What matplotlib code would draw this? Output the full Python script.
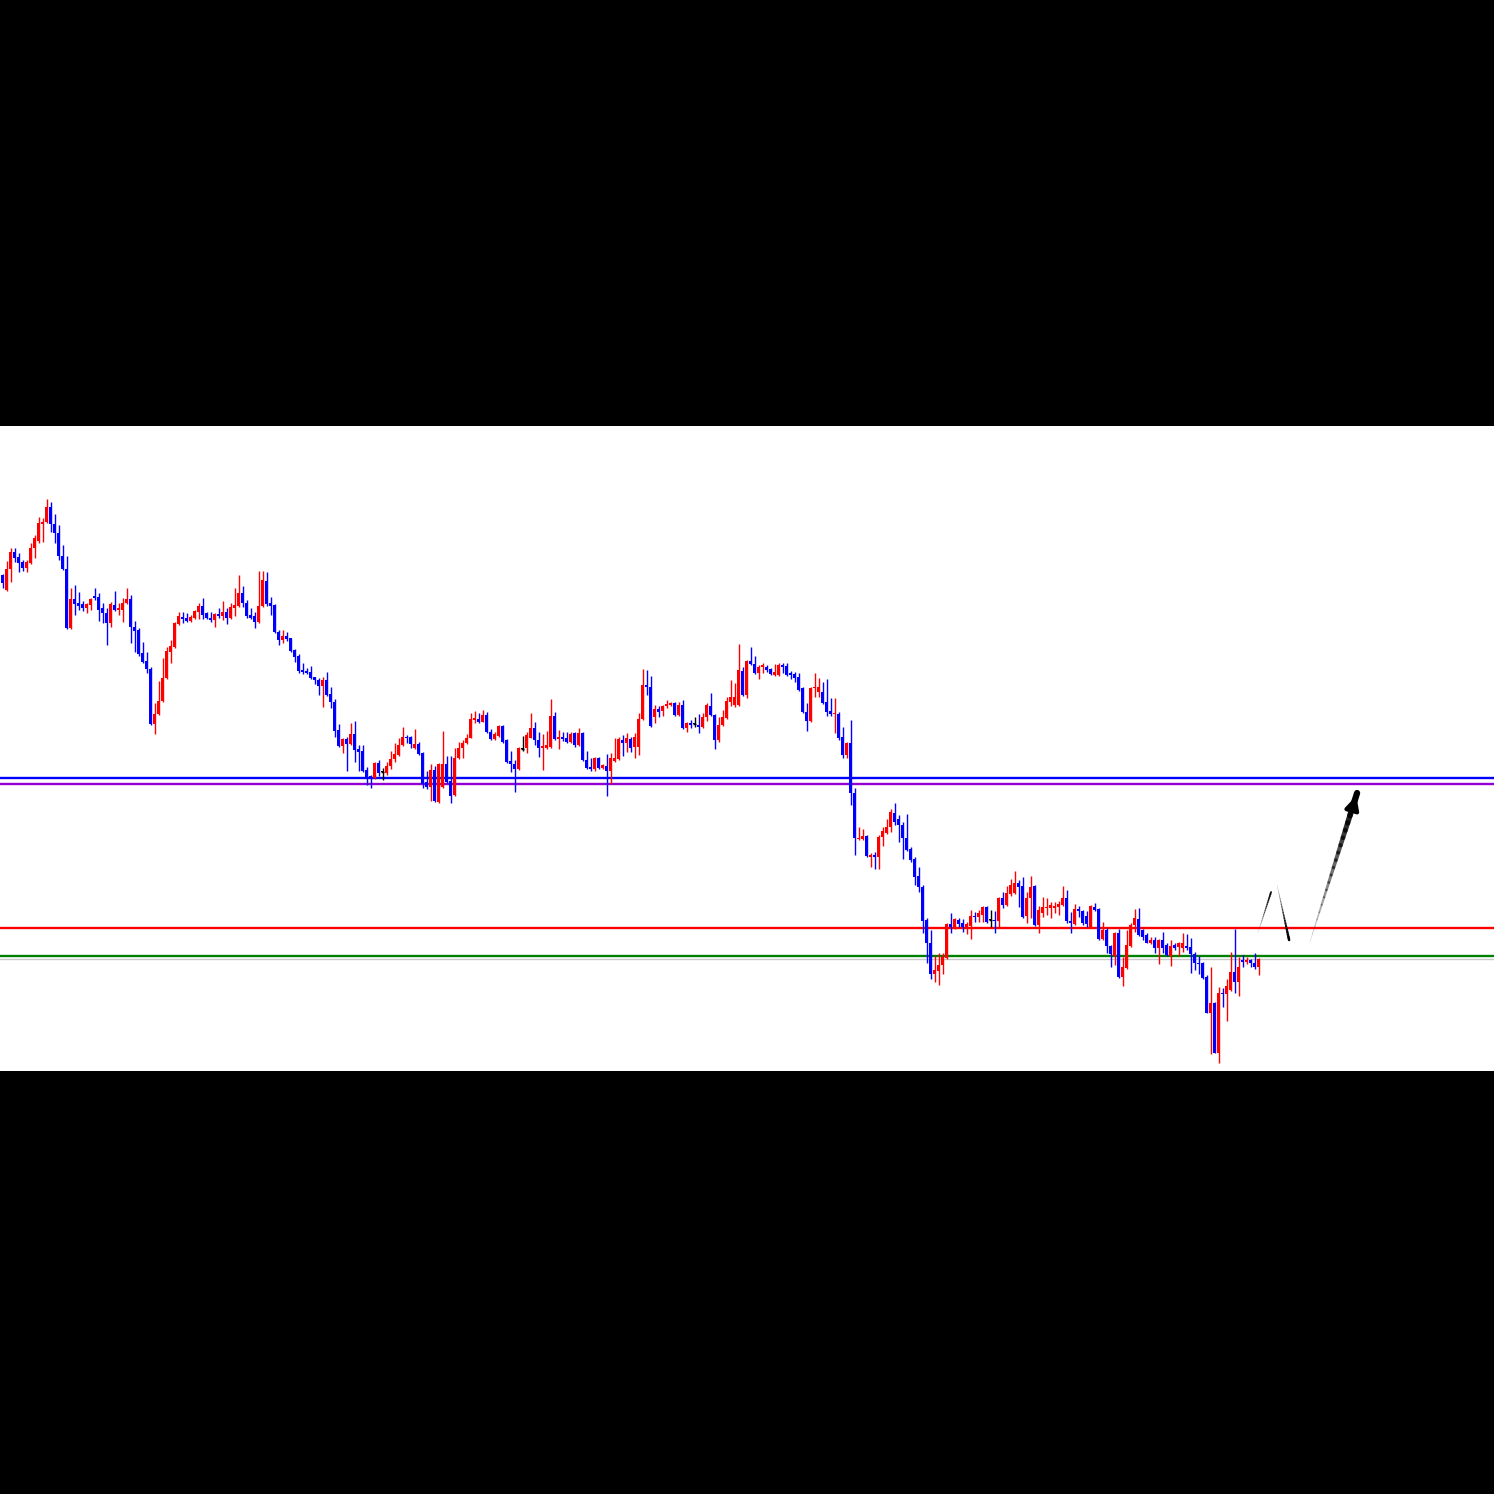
import numpy as np
import matplotlib
matplotlib.use("Agg")
import matplotlib.pyplot as plt
from matplotlib.collections import LineCollection

# OHLC (price units, one candle per bar)
opens = [
    525, 510, 531, 548, 543, 538, 532, 537, 552, 559, 576, 578, 593, 576, 567, 544, 531, 472, 501, 497,
    496, 492, 495, 504, 503, 492, 487, 477, 495, 490, 490, 497, 501, 473, 470, 447, 439, 431, 376, 386,
    399, 422, 448, 453, 476, 483, 482, 479, 482, 488, 494, 487, 482, 480, 486, 484, 488, 482, 492, 494,
    507, 497, 485, 484, 478, 494, 519, 497, 495, 468, 460, 464, 462, 450, 444, 430, 429, 428, 423, 420,
    414, 420, 406, 398, 370, 354, 361, 356, 366, 351, 349, 330, 324, 322, 337, 328, 327, 334, 341, 345,
    355, 363, 363, 352, 356, 347, 318, 313, 330, 298, 313, 336, 319, 305, 342, 352, 357, 362, 380, 381,
    378, 385, 368, 361, 364, 374, 360, 339, 336, 331, 351, 352, 362, 372, 360, 352, 352, 353, 384, 361,
    363, 362, 358, 367, 355, 367, 340, 333, 331, 342, 332, 334, 329, 339, 341, 360, 357, 361, 353, 353,
    381, 415, 413, 383, 391, 389, 394, 395, 397, 385, 395, 372, 377, 376, 375, 373, 383, 394, 385, 360,
    375, 382, 398, 395, 395, 429, 405, 439, 436, 427, 433, 433, 431, 425, 425, 435, 434, 427, 426, 423,
    412, 388, 379, 412, 408, 408, 398, 389, 386, 386, 363, 345, 357, 307, 261, 261, 264, 243, 245, 243,
    263, 267, 273, 287, 281, 275, 262, 251, 241, 224, 213, 180, 157, 126, 129, 135, 142, 176, 173, 180,
    177, 173, 174, 184, 183, 185, 193, 180, 180, 179, 202, 195, 206, 207, 217, 214, 184, 202, 214, 175,
    187, 192, 192, 192, 193, 195, 202, 179, 176, 191, 189, 184, 173, 193, 191, 161, 170, 154, 144, 167,
    123, 132, 154, 175, 181, 170, 165, 157, 160, 152, 160, 155, 144, 155, 153, 152, 154, 153, 146, 137,
    137, 123, 87, 97, 47, 107, 106, 110, 128, 118, 140, 138, 140, 137, 133,
]
highs = [
    526, 539, 552, 552, 547, 540, 540, 557, 565, 583, 582, 601, 598, 586, 575, 555, 544, 512, 515, 508,
    499, 497, 502, 512, 507, 497, 492, 498, 509, 497, 502, 512, 505, 479, 472, 458, 448, 433, 397, 419,
    442, 453, 460, 478, 488, 488, 487, 485, 490, 497, 502, 488, 488, 487, 492, 499, 492, 497, 512, 525,
    514, 500, 492, 488, 529, 529, 528, 503, 496, 470, 470, 468, 462, 451, 446, 437, 432, 434, 423, 422,
    423, 428, 413, 401, 376, 362, 363, 377, 379, 355, 355, 333, 325, 338, 340, 332, 338, 349, 357, 362,
    373, 365, 364, 371, 358, 348, 329, 336, 334, 337, 369, 344, 344, 352, 358, 360, 366, 387, 389, 387,
    390, 388, 371, 368, 375, 375, 361, 349, 340, 353, 364, 368, 387, 378, 368, 366, 369, 401, 388, 370,
    368, 368, 368, 368, 372, 368, 349, 342, 343, 343, 336, 346, 347, 362, 363, 365, 367, 363, 367, 387,
    431, 430, 424, 395, 394, 395, 400, 398, 398, 398, 400, 378, 380, 383, 386, 387, 397, 407, 386, 383,
    390, 403, 420, 417, 456, 433, 440, 453, 444, 435, 437, 435, 432, 436, 437, 437, 437, 429, 428, 427,
    413, 397, 413, 427, 422, 418, 421, 402, 402, 388, 373, 358, 380, 312, 273, 271, 265, 247, 248, 265,
    273, 281, 291, 297, 285, 278, 286, 253, 243, 233, 215, 182, 170, 144, 147, 147, 177, 187, 182, 182,
    181, 178, 190, 188, 190, 194, 194, 190, 189, 203, 208, 214, 221, 229, 220, 223, 208, 224, 215, 194,
    203, 202, 198, 198, 199, 214, 210, 188, 196, 194, 190, 189, 195, 197, 192, 178, 172, 155, 168, 171,
    143, 170, 177, 191, 192, 171, 167, 163, 163, 161, 168, 157, 160, 157, 158, 167, 166, 162, 148, 144,
    138, 125, 133, 98, 113, 112, 121, 148, 171, 143, 145, 143, 141, 147, 142,
]
lows = [
    512, 509, 518, 538, 528, 529, 528, 536, 542, 557, 558, 577, 568, 557, 540, 530, 471, 471, 485, 490,
    489, 487, 490, 500, 479, 477, 455, 473, 489, 485, 478, 496, 457, 448, 444, 437, 427, 375, 366, 385,
    398, 421, 437, 452, 475, 477, 478, 478, 481, 481, 481, 481, 478, 473, 482, 480, 476, 481, 484, 493,
    493, 482, 481, 472, 477, 493, 494, 485, 467, 455, 457, 459, 448, 438, 427, 426, 426, 421, 416, 405,
    393, 404, 392, 363, 353, 347, 329, 355, 338, 329, 328, 315, 312, 321, 324, 320, 325, 331, 338, 344,
    354, 357, 352, 351, 345, 312, 311, 299, 298, 297, 312, 317, 297, 304, 341, 342, 356, 362, 377, 377,
    378, 367, 360, 360, 363, 357, 337, 328, 308, 330, 349, 347, 362, 355, 343, 330, 351, 352, 360, 351,
    359, 357, 357, 353, 354, 339, 331, 329, 329, 331, 331, 304, 316, 338, 340, 344, 348, 348, 342, 345,
    380, 405, 373, 377, 383, 384, 392, 394, 384, 384, 371, 368, 372, 373, 367, 372, 379, 384, 351, 358,
    374, 381, 394, 393, 394, 404, 402, 435, 426, 421, 427, 428, 425, 424, 424, 427, 424, 421, 418, 409,
    387, 369, 378, 403, 403, 396, 384, 384, 367, 360, 342, 342, 295, 245, 260, 260, 243, 233, 231, 231,
    254, 266, 268, 275, 258, 241, 249, 238, 215, 208, 167, 137, 121, 118, 115, 126, 141, 167, 171, 173,
    168, 166, 161, 178, 178, 178, 177, 173, 167, 173, 192, 194, 204, 206, 193, 182, 177, 182, 174, 167,
    183, 185, 182, 187, 185, 194, 177, 167, 175, 183, 175, 173, 172, 189, 160, 160, 147, 133, 135, 122,
    114, 131, 153, 168, 164, 160, 157, 156, 147, 136, 147, 144, 134, 150, 144, 148, 150, 127, 130, 126,
    121, 87, 46, 47, 37, 93, 79, 109, 107, 104, 133, 136, 133, 131, 125,
]
closes = [
    517, 531, 548, 542, 537, 532, 538, 552, 562, 577, 578, 593, 576, 567, 544, 531, 472, 501, 496, 494,
    492, 496, 501, 502, 490, 487, 477, 496, 490, 492, 497, 501, 473, 469, 446, 438, 431, 376, 386, 399,
    422, 449, 454, 477, 484, 481, 479, 483, 489, 494, 485, 482, 480, 486, 484, 488, 482, 493, 495, 507,
    497, 484, 482, 478, 494, 520, 496, 494, 468, 460, 464, 461, 449, 443, 429, 428, 427, 422, 420, 414,
    420, 405, 398, 369, 354, 361, 356, 366, 350, 348, 329, 323, 322, 337, 327, 328, 334, 341, 346, 355,
    363, 362, 356, 356, 346, 316, 313, 330, 299, 336, 336, 318, 304, 342, 352, 357, 362, 381, 382, 378,
    385, 368, 361, 366, 374, 358, 338, 336, 331, 352, 351, 365, 372, 360, 352, 354, 355, 384, 361, 363,
    361, 358, 366, 355, 367, 340, 332, 331, 342, 332, 335, 329, 342, 342, 361, 357, 362, 352, 363, 381,
    415, 413, 374, 391, 388, 394, 396, 397, 385, 395, 372, 377, 375, 376, 373, 383, 395, 385, 360, 375,
    383, 399, 403, 403, 430, 405, 439, 436, 427, 433, 435, 430, 426, 428, 435, 433, 425, 425, 422, 410,
    388, 379, 412, 413, 413, 397, 388, 386, 387, 362, 345, 357, 307, 262, 262, 264, 244, 245, 243, 263,
    269, 273, 288, 278, 275, 262, 250, 240, 223, 213, 179, 157, 126, 130, 135, 143, 176, 173, 181, 176,
    173, 176, 184, 183, 187, 193, 178, 180, 179, 202, 195, 207, 215, 217, 213, 183, 202, 213, 175, 190,
    193, 193, 195, 194, 196, 202, 179, 177, 191, 189, 177, 176, 194, 190, 161, 170, 154, 146, 167, 123,
    133, 155, 175, 182, 165, 163, 157, 160, 152, 160, 152, 145, 154, 152, 157, 157, 152, 146, 137, 136,
    122, 87, 97, 47, 107, 106, 114, 128, 118, 133, 138, 140, 137, 133, 141,
]

# horizontal levels: resistance / support lines and the bid line
levels = [322, 316, 172, 144, 141]
level_colors = ["#0000ff", "#9400d3", "#ff0000", "#008000", "#c8c8c8"]
level_widths = [1.7, 1.7, 1.7, 1.7, 1.0]

# hand-drawn projection strokes (bar index, price)
stroke_up = [(313.8, 167), (317.1, 208)]
stroke_down = [(318.6, 215), (321.6, 160)]
big_arrow = [(326.8, 158), (338.6, 307)]

n = min(len(opens), len(highs), len(lows), len(closes))
o = np.array(opens[:n], float)
h = np.array(highs[:n], float)
l = np.array(lows[:n], float)
c = np.array(closes[:n], float)
x = np.arange(n)

bull, bear = "#ff0000", "#0000ff"
col = np.where(c > o, bull, np.where(c < o, bear, "black"))

fig = plt.figure(figsize=(14.94, 14.94), dpi=100, facecolor="black")
ax = fig.add_axes([0, 1 - 1071 / 1494, 1, (1071 - 426) / 1494])
ax.set_facecolor("white")

for lv, lc, lw in zip(levels, level_colors, level_widths):
    ax.axhline(lv, color=lc, lw=lw, zorder=1)

ax.vlines(x, l, h, colors=col, lw=1.0, zorder=2)
body = np.maximum(np.abs(c - o), 0.8)
ax.bar(x, body, bottom=np.minimum(o, c), width=0.75, color=col, lw=0, zorder=3)
doji = c == o
ax.hlines(c[doji], x[doji] - 0.4, x[doji] + 0.4, colors="black", lw=1.0, zorder=3)


def tapered(ax, p0, p1, w0, w1, a0, a1, steps=20):
    t = np.linspace(0, 1, steps + 1)
    xs = p0[0] + (p1[0] - p0[0]) * t
    ys = p0[1] + (p1[1] - p0[1]) * t
    segs = [[(xs[i], ys[i]), (xs[i + 1], ys[i + 1])] for i in range(steps)]
    ws = np.linspace(w0, w1, steps)
    alphas = np.linspace(a0, a1, steps)
    cols = [(0, 0, 0, a) for a in alphas]
    ax.add_collection(LineCollection(segs, linewidths=ws, colors=cols, zorder=4, capstyle="round"))


tapered(ax, stroke_up[0], stroke_up[1], 0.4, 1.3, 0.1, 0.9)
tapered(ax, stroke_down[0], stroke_down[1], 0.3, 1.8, 0.2, 1.0)
tapered(ax, big_arrow[0], big_arrow[1], 0.5, 4.5, 0.15, 1.0)
ax.annotate("", xy=big_arrow[1], xytext=(big_arrow[1][0] - 0.6, big_arrow[1][1] - 8),
            arrowprops=dict(arrowstyle="-|>", color="black", lw=3, mutation_scale=20), zorder=5)

ax.set_xlim(-2.7 / 4, (1494 - 2.7) / 4)
ax.set_ylim(1100 - 1071, 1100 - 426)
ax.set_xticks([])
ax.set_yticks([])
for s in ax.spines.values():
    s.set_visible(False)

fig.savefig("out.png", dpi=100, facecolor="black")
